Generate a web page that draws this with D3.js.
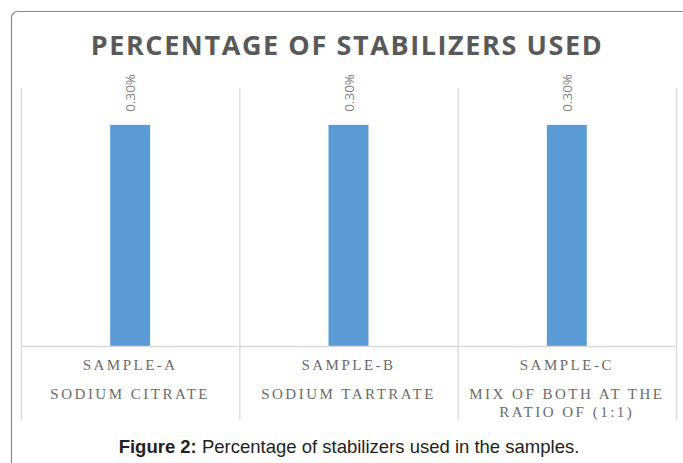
<!DOCTYPE html>
<html>
<head>
<meta charset="utf-8">
<script src="https://cdn.jsdelivr.net/npm/d3@7"></script>
<style>
  body { margin: 0; background: #fff; }
  svg { display: block; }
</style>
</head>
<body>
<script>
// chart data
var samples = ["SAMPLE-A", "SAMPLE-B", "SAMPLE-C"];
var stabilizers = [["SODIUM CITRATE"], ["SODIUM TARTRATE"], ["MIX OF BOTH AT THE", "RATIO OF (1:1)"]];
var percents = [0.30, 0.30, 0.30];
var title = "PERCENTAGE OF STABILIZERS USED";

var w = 683, h = 463;
var plotLeft = 21, plotRight = 676, plotTop = 88, axisY = 346, tableBottom = 420;

var svg = d3.select("body").append("svg")
    .attr("width", w)
    .attr("height", h);

// outer frame (runs off the page to the right and bottom)
svg.append("rect")
    .attr("x", 11.5).attr("y", 11.5)
    .attr("width", 720).attr("height", 500)
    .attr("rx", 6)
    .attr("fill", "none")
    .attr("stroke", "#8c8c8c")
    .attr("stroke-width", 1.2);

// title
svg.append("text")
    .attr("x", 347).attr("y", 55)
    .attr("text-anchor", "middle")
    .attr("font-family", "'Open Sans', sans-serif")
    .attr("font-weight", "bold")
    .attr("font-size", 27)
    .attr("letter-spacing", 1.6)
    .attr("fill", "#595959")
    .text(title);

var xScale = d3.scaleBand()
    .domain(samples)
    .range([plotLeft, plotRight])
    .padding(0);

var yScale = d3.scaleLinear()
    .domain([0, 0.35])
    .range([axisY, plotTop]);

var barW = xScale.bandwidth() * 0.183;

// category separators (gridlines)
var edges = samples.map(function(s) { return xScale(s); }).concat([plotRight]);
svg.selectAll(".sep")
    .data(edges)
    .enter().append("line")
    .attr("x1", function(d) { return d + 0.5; })
    .attr("x2", function(d) { return d + 0.5; })
    .attr("y1", plotTop)
    .attr("y2", tableBottom)
    .attr("stroke", "#d9d9d9")
    .attr("stroke-width", 1.3);

// bars
svg.selectAll(".bar")
    .data(percents)
    .enter().append("rect")
    .attr("x", function(d, i) { return xScale(samples[i]) + xScale.bandwidth() / 2 - barW / 2; })
    .attr("y", function(d) { return yScale(d); })
    .attr("width", barW)
    .attr("height", function(d) { return yScale(0) - yScale(d); })
    .attr("fill", "#5b9bd5");

// axis line
svg.append("line")
    .attr("x1", plotLeft).attr("x2", plotRight)
    .attr("y1", axisY + 0.5).attr("y2", axisY + 0.5)
    .attr("stroke", "#d9d9d9")
    .attr("stroke-width", 1.3);

// value labels
svg.selectAll(".val")
    .data(percents)
    .enter().append("text")
    .attr("transform", function(d, i) {
        var cx = xScale(samples[i]) + xScale.bandwidth() / 2;
        return "translate(" + (cx + 5) + "," + (yScale(d) - 13) + ") rotate(-90)";
    })
    .attr("font-family", "'Open Sans', sans-serif")
    .attr("font-size", 13.5)
    .attr("fill", "#808080")
    .text(function(d) { return d.toFixed(2) + "%"; });

// category labels
var cat = svg.selectAll(".cat")
    .data(samples)
    .enter().append("g")
    .attr("transform", function(d) { return "translate(" + (xScale(d) + xScale.bandwidth() / 2) + ",0)"; });

cat.append("text")
    .attr("y", 370)
    .attr("text-anchor", "middle")
    .attr("font-family", "'Liberation Serif', serif")
    .attr("font-size", 15)
    .attr("letter-spacing", 2.5)
    .attr("fill", "#6b6b6b")
    .text(function(d) { return d; });

cat.each(function(d, i) {
    d3.select(this).selectAll(".line2")
        .data(stabilizers[i])
        .enter().append("text")
        .attr("y", function(t, j) { return 399 + j * 18; })
        .attr("text-anchor", "middle")
        .attr("font-family", "'Liberation Serif', serif")
        .attr("font-size", 15)
        .attr("letter-spacing", 2.5)
        .attr("fill", "#6b6b6b")
        .text(function(t) { return t; });
});

// caption
var cap = svg.append("text")
    .attr("x", 349).attr("y", 453)
    .attr("text-anchor", "middle")
    .attr("font-family", "'Liberation Sans', Arial, sans-serif")
    .attr("font-size", 18.5)
    .attr("fill", "#231f20");
cap.append("tspan").attr("font-weight", "bold").text("Figure 2:");
cap.append("tspan").text(" Percentage of stabilizers used in the samples.");
</script>
</body>
</html>
